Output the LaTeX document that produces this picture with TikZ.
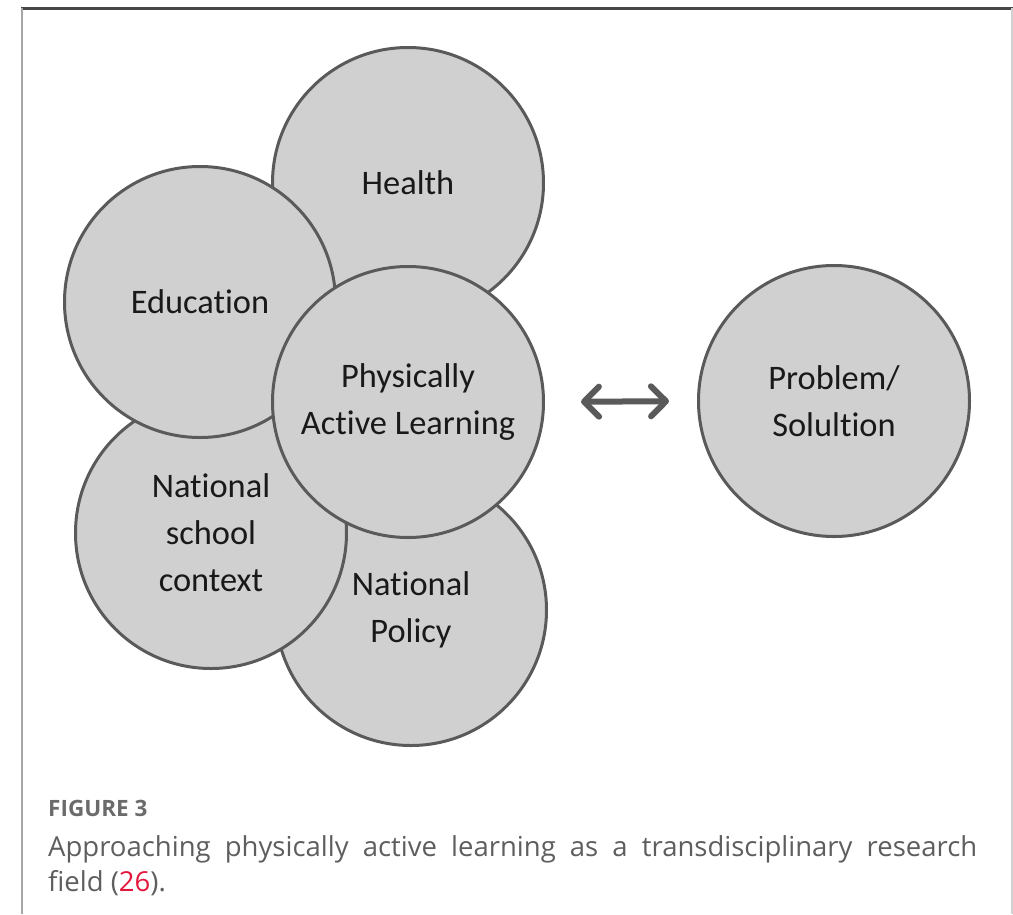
\documentclass[tikz,border=0pt]{standalone}
\usepackage{fontspec}
\setmainfont{Carlito}[Ligatures=NoCommon]
\newfontfamily\capfont{Open Sans}
\usetikzlibrary{arrows.meta}
\usepackage{xcolor}
\definecolor{circfill}{HTML}{D0D0D0}
\definecolor{circline}{HTML}{5A5A5A}
\definecolor{captext}{HTML}{5E5E5E}
\definecolor{refred}{HTML}{E3173E}

\begin{document}
\begin{tikzpicture}[x=1pt, y=-1pt,
  field/.style={circle, draw=circline, fill=circfill, line width=3pt,
    minimum size=271pt, inner sep=0pt, align=center, text=black!90,
    font=\fontsize{34.4}{47}\selectfont}]
  \useasboundingbox (0,0) rectangle (1013,914);

  % frame
  \draw[line width=3pt, black!72] (21,8) -- (1013,8);
  \draw[line width=2pt, black!35] (22,8) -- (22,914);
  \draw[line width=2pt, black!18] (1012,8) -- (1012,914);

  % overlapping fields
  \node[field] (health) at (408,183) {Health};
  \node[field] (policy) at (411,610) {National\\Policy};
  \node[field] (school) at (211,533) {National\\school\\context};
  \node[field] (edu) at (200,302) {Education};
  \node[field] (pal) at (408,402) {Physically\\Active Learning};

  % problem side
  \node[field] (prob) at (834,401) {Problem/\\Solultion};
  \draw[circline, line width=6pt,
    {Straight Barb[length=15pt,width=30pt,round]}-{Straight Barb[length=15pt,width=30pt,round]},
    shorten <=36pt, shorten >=28pt] (pal.east) -- (prob.west);

  % caption
  \node[anchor=base west, inner sep=0pt, text=black!58,
    font=\capfont\bfseries\fontsize{22.5}{26}\selectfont] (figlabel) at (48,816) {FIGURE 3};
  \node[anchor=base west, inner sep=0pt, text width=929pt, align=justify, text=captext,
    font=\capfont\fontsize{27.5}{35}\selectfont] (figcaption) at (48,856)
    {Approaching physically active learning as a transdisciplinary research\linebreak field ({\color{refred}26}).};
\end{tikzpicture}
\end{document}
